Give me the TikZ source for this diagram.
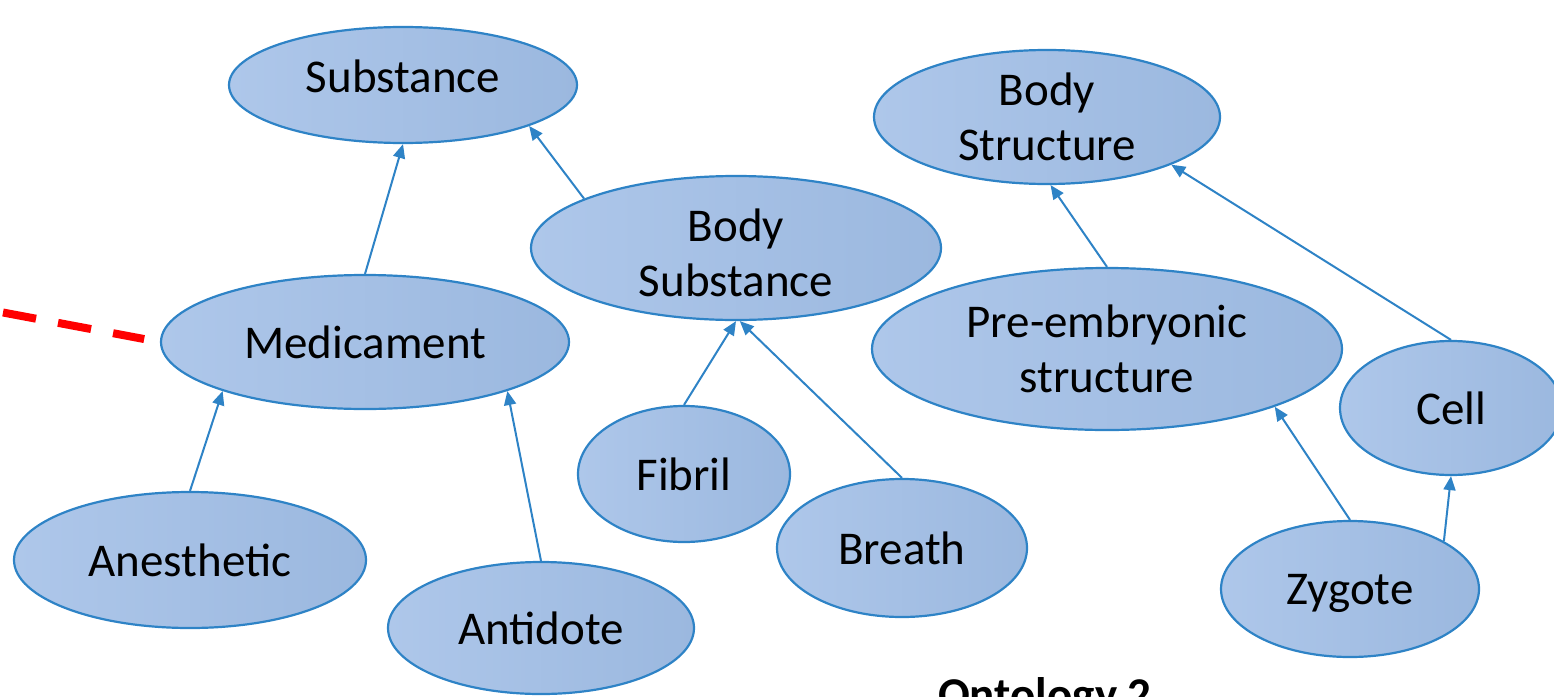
\documentclass[tikz,border=0pt]{standalone}
\usepackage{fontspec}
\setmainfont{Carlito}
\usetikzlibrary{shapes.geometric,arrows.meta}
\definecolor{edgeblue}{HTML}{2E83C6}
\definecolor{fillA}{HTML}{AEC7EA}
\definecolor{fillB}{HTML}{9BB8DF}
\definecolor{dashred}{HTML}{FF0000}
\tikzset{
  ell/.style={ellipse, draw=edgeblue, line width=2.2pt, left color=fillA, right color=fillB,
    inner sep=0pt, align=center, font=\fontsize{47}{55}\selectfont},
  isa/.style={draw=edgeblue, line width=2pt, -{Triangle[length=14pt,width=12pt]}},
  reddash/.style={draw=dashred, line width=8pt, dash pattern=on 33.6pt off 22.4pt},
}
\begin{document}
\begin{tikzpicture}[x=1pt,y=-1pt]
\useasboundingbox (0,0) rectangle (1554,696);
\clip (0,0) rectangle (1554,696);
% nodes
\node[ell, minimum width=348pt, minimum height=116pt, text depth=18pt] (sub)  at (403,85)  {Substance};
\node[ell, minimum width=346pt, minimum height=134pt] (bstr) at (1047,117) {Body\\Structure};
\node[ell, minimum width=410pt, minimum height=144pt] (bsub) at (736,248) {\mbox{}\\[-13pt]Body\\Substance};
\node[ell, minimum width=408pt, minimum height=134pt] (med)  at (365,342) {Medicament};
\node[ell, minimum width=470pt, minimum height=162pt] (pre)  at (1107,349) {Pre-embryonic\\structure};
\node[ell, minimum width=222pt, minimum height=134pt] (cell) at (1451,408) {Cell};
\node[ell, minimum width=212pt, minimum height=136pt, text depth=0pt] (fib)  at (684,474) {Fibril};
\node[ell, minimum width=250pt, minimum height=138pt, text depth=0pt] (bre)  at (902,548) {Breath};
\node[ell, minimum width=352pt, minimum height=136pt] (ane)  at (190,560) {Anesthetic};
\node[ell, minimum width=306pt, minimum height=132pt] (ant)  at (541,628) {Antidote};
\node[ell, minimum width=258pt, minimum height=136pt, text depth=0pt] (zyg)  at (1350,589) {Zygote};
\node[anchor=base west, inner sep=0pt, font=\bfseries\fontsize{47}{55}\selectfont] (ont) at (938,710) {Ontology 2};
% connectors
\draw[isa] (med.north) -- (sub.south);
\draw[isa] (bsub.162) -- (sub.-18);
\draw[isa] (ane.north) -- (med.199);
\draw[isa] (ant.north) -- (med.-19);
\draw[isa] (fib.north) -- (bsub.-90);
\draw[isa] (bre.north) -- (bsub.-87);
\draw[isa] (pre.north) -- (bstr.-87);
\draw[isa] (cell.north) -- (bstr.-21);
\draw[isa] (zyg.north) -- (pre.-19);
\draw[isa] (zyg.27) -- (cell.south);
% red dashed link
\coordinate (rdA) at (3,312.5);
\draw[reddash, shorten >=16pt] (rdA) -- (med.west);
\end{tikzpicture}
\end{document}
